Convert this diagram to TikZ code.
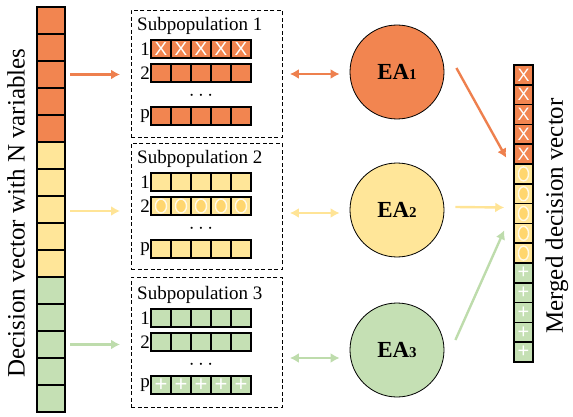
\documentclass[tikz,border=0pt]{standalone}
\usepackage{fontspec}
\setmainfont{Liberation Serif}
\setsansfont{Liberation Sans}
\usetikzlibrary{arrows.meta,calc,shapes.geometric}
\definecolor{oc}{RGB}{242,133,80}
\definecolor{yc}{RGB}{255,230,153}
\definecolor{gc}{RGB}{197,224,180}
\definecolor{ydark}{RGB}{255,214,110}
\definecolor{oarr}{RGB}{238,128,78}
\definecolor{yarr}{RGB}{255,228,150}
\definecolor{garr}{RGB}{190,220,172}
\begin{document}
\begin{tikzpicture}[x=1pt,y=-1pt,
  vcell/.style={draw, line width=1.7pt, minimum width=28pt, minimum height=27pt, inner sep=0pt},
  scell/.style={draw, line width=1.8pt, minimum width=20pt, minimum height=18pt, inner sep=0pt},
  mcell/.style={draw, line width=1.5pt, minimum width=19pt, minimum height=19.8pt, inner sep=0pt},
  dbox/.style={draw, line width=0.9pt, dash pattern=on 4pt off 2.5pt, inner sep=0pt, anchor=north west, minimum width=151pt},
  eacirc/.style={circle, draw, line width=0.8pt, minimum size=94pt, inner sep=0pt, font=\fontsize{23}{23}\selectfont\bfseries},
  arr/.style={line width=2.4pt, -{Latex[length=9pt,width=10pt]}},
  darr/.style={line width=2.4pt, {Latex[length=9pt,width=10pt]}-{Latex[length=9pt,width=10pt]}},
  xmark/.style={text=white, font=\sffamily\fontsize{19}{19}\selectfont, inner sep=0pt},
  pmark/.style={text=white, font=\sffamily\fontsize{22}{22}\selectfont, inner sep=0pt},
  omark/.style={fill=ydark, draw=white!75!yc, line width=1.4pt, ellipse, minimum width=11pt, minimum height=14pt, inner sep=0pt},
  lab/.style={font=\fontsize{19}{19}\selectfont, inner sep=0pt},
  bigtxt/.style={font=\fontsize{25}{25}\selectfont, rotate=90, inner sep=0pt}
]
\useasboundingbox (0,0) rectangle (573,417);

% left decision vector
\foreach \i in {1,...,5} \node[vcell,fill=oc] (v\i) at (51,{7+27*(\i-0.5)}) {};
\foreach \i in {6,...,10} \node[vcell,fill=yc] (v\i) at (51,{7+27*(\i-0.5)}) {};
\foreach \i in {11,...,15} \node[vcell,fill=gc] (v\i) at (51,{7+27*(\i-0.5)}) {};
\node[bigtxt] (lt) at (16,213) {Decision vector with N variables};

% subpopulation boxes
\node[dbox, minimum height=127pt] (box1) at (131,10) {};
\node[dbox, minimum height=126pt] (box2) at (131,143) {};
\node[dbox, minimum height=130pt] (box3) at (131,277) {};

\foreach \b/\T/\c in {1/10/oc,2/143/yc,3/279/gc} {
  \node[lab, anchor=west] (t\b) at (137,{\T+16}) {Subpopulation \b};
  \node[lab, font=\fontsize{21}{21}\selectfont] (d\b) at (201,{\T+86}) {$\cdots$};
  \foreach \r/\dy in {1/39,2/63,p/106} {
    \node[lab, anchor=east] (l\b\r) at (150,{\T+\dy}) {\r};
    \foreach \j in {1,...,5}
      \node[scell, fill=\c] (s\b\r\j) at ({161+20*(\j-1)},{\T+\dy}) {};
  }
}
\foreach \j in {1,...,5} {
  \node[xmark] at (s11\j) {X};
  \node[omark] at (s22\j) {};
  \node[pmark] at (s3p\j) {+};
}

% EA circles
\node[eacirc, fill=oc] (ea1) at (397,72) {EA{\fontsize{15}{15}\selectfont 1}};
\node[eacirc, fill=yc] (ea2) at (397,210) {EA{\fontsize{15}{15}\selectfont 2}};
\node[eacirc, fill=gc] (ea3) at (397,350) {EA{\fontsize{15}{15}\selectfont 3}};

% merged vector
\foreach \i in {1,...,5} {\node[mcell,fill=oc] (m\i) at (523.5,{65+19.8*(\i-0.5)}) {}; \node[xmark,font=\sffamily\fontsize{18}{18}\selectfont] at (m\i) {X};}
\foreach \i in {6,...,10} {\node[mcell,fill=yc] (m\i) at (523.5,{65+19.8*(\i-0.5)}) {}; \node[omark,minimum width=10pt,minimum height=14pt] at (m\i) {};}
\foreach \i in {11,...,15} {\node[mcell,fill=gc] (m\i) at (523.5,{65+19.8*(\i-0.5)}) {}; \node[pmark,font=\sffamily\fontsize{20}{20}\selectfont] at (m\i) {+};}
\node[bigtxt] (rt) at (557,216) {Merged decision vector};

% arrows: vector -> subpopulations
\draw[arr, oarr] ([xshift=4pt]v3.east) -- ([xshift=-11pt]v3.east -| box1.west);
\draw[arr, yarr] ([xshift=4pt,yshift=-1.5pt]v8.east) -- ([xshift=-11pt,yshift=-1.5pt]v8.east -| box2.west);
\draw[arr, garr] ([xshift=4pt]v13.east) -- ([xshift=-11pt]v13.east -| box3.west);

% subpopulations <-> EAs
\draw[darr, oarr] ([xshift=7pt,yshift=-2pt]ea1.west -| box1.east) -- ([xshift=-10pt,yshift=-2pt]ea1.west);
\draw[darr, yarr] ([xshift=7pt,yshift=-3pt]ea2.west -| box2.east) -- ([xshift=-10pt,yshift=-3pt]ea2.west);
\draw[darr, garr] ([xshift=7pt,yshift=-8pt]ea3.west -| box3.east) -- ([xshift=-10pt,yshift=-8pt]ea3.west);

% EAs -> merged vector
\draw[arr, oarr] ($(ea1.east)+(12,-4)$) -- ($(m5.south west)+(-7,-7)$);
\draw[arr, yarr] ($(ea2.east)+(11,-3)$) -- ($(m8.west)+(-9,-6)$);
\draw[arr, garr] ($(ea3.east)+(11,-10)$) -- ($(m9.west)+(-9,-3)$);
\end{tikzpicture}
\end{document}
